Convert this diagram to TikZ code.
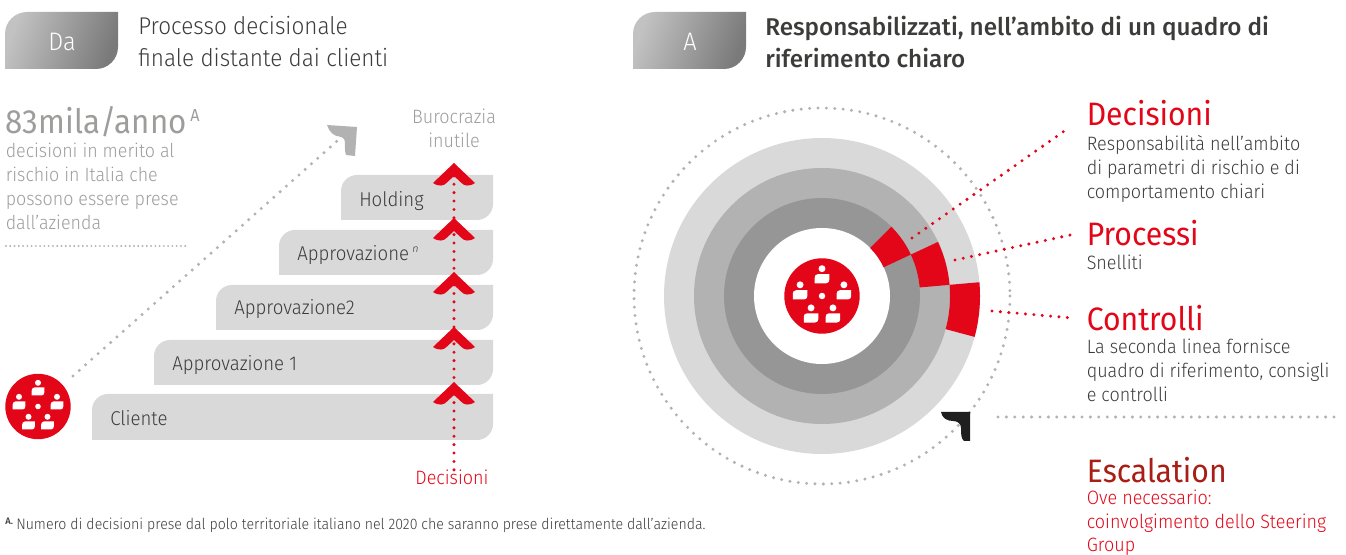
\documentclass[tikz,border=0pt]{standalone}
\usepackage{fontspec}
\setmainfont{Fira Sans}[UprightFont=* Light,BoldFont=* Medium,UprightFeatures={FakeStretch=0.93}]
\newfontfamily\regf{Fira Sans}[FakeStretch=0.93]
\definecolor{ured}{HTML}{E30618}
\definecolor{dred}{HTML}{A81E14}
\definecolor{stair}{HTML}{D9D9D9}
\definecolor{txt}{HTML}{3C3C3B}
\definecolor{gtxt}{HTML}{9D9D9C}
\definecolor{dots}{HTML}{B2B2B2}
\newcommand{\fsz}[2]{\fontsize{#1}{#2}\selectfont}
\newcommand{\stepshape}[6]{% name,left,top,bottom,text,dy
  \fill[stair] (#2,#4) -- (#2,#3+16) arc[start angle=180,end angle=270,radius=16] -- (493,#3) -- (493,#4-16) arc[start angle=0,end angle=90,radius=16] -- cycle;
  \node[bodytxt,anchor=west] (#1) at (#2+18,{(#3+#4)/2+#6}) {#5};}
\newcommand{\badge}[3]{% name,left,text
  \path[shade,left color=black!24,middle color=black!40,right color=black!52,shading angle=70]
   (#2,69) -- (#2,34) arc[start angle=180,end angle=270,radius=22] -- (#2+113,12) -- (#2+113,47) arc[start angle=0,end angle=90,radius=22] -- cycle;
  \node[white,font=\fsz{19}{22}] (#1) at (#2+57,42) {#3};}
\newcommand{\chev}[1]{%
  \fill[ured] (454,#1) -- (475,#1+20) .. controls (469,#1+24) and (464,#1+23) .. (461,#1+19.5) -- (454,#1+13) -- (447,#1+19.5) .. controls (444,#1+23) and (439,#1+24) .. (433,#1+20) -- cycle;}
\newcommand{\person}[2]{%
  \fill[white] (#1,#2-8.7) circle[radius=3];
  \fill[white] (#1-6.3,#2+4) -- (#1-6.3,#2-1) .. controls (#1-6.3,#2-2.5) and (#1-5.5,#2-4) .. (#1-3.5,#2-4) -- (#1+6.3,#2-4) -- (#1+6.3,#2+1) .. controls (#1+6.3,#2+2.5) and (#1+5.5,#2+4) .. (#1+3.5,#2+4) -- cycle;}
\newcommand{\sector}[4]{%
  \fill[ured,shift={(ctr)}] (#1:#3) arc[start angle=#1,end angle=#2,radius=#3] -- (#2:#4) arc[start angle=#2,end angle=#1,radius=#4] -- cycle;}
\tikzset{
  bodytxt/.style={text=txt,font=\fsz{15}{18},inner sep=0pt},
  bigred/.style={text=ured,font=\regf\fsz{24.3}{28},inner sep=0pt,anchor=base west},
  rightbody/.style={text=txt,font=\fsz{14.5}{18},inner sep=0pt,anchor=north west,align=left},
  dotline/.style={line width=2.5pt,line cap=round,dash pattern=on 0pt off 6.3pt},
  reddots/.style={dotline,draw=ured},
  greydots/.style={dotline,draw=dots},
  crowd/.pic={
    \fill[ured] (0,0) circle[radius=32.7];
    \fill[white] (0,0) circle[radius=2.8];
    \person{0}{-15}\person{-19}{-1}\person{19}{-1}\person{-9.5}{19}\person{9.5}{19}
  }
}
\begin{document}
\begin{tikzpicture}[x=0.75pt,y=-0.75pt]
\useasboundingbox (0,0) rectangle (1346,555);
% headers
\badge{da}{5}{Da}
\badge{a}{633}{A}
\node[anchor=north west,align=left,text=txt,font=\fsz{18.15}{24},inner sep=0pt] (h1) at (138,16) {Processo decisionale\\finale distante dai clienti};
\node[anchor=north west,align=left,text=txt,font=\fsz{18.2}{24}\bfseries,inner sep=0pt] (h2) at (765,16) {Responsabilizzati, nell’ambito di un quadro di\\riferimento chiaro};
% left texts
\node[anchor=base west,text=gtxt,font=\regf\fsz{25.2}{30},inner sep=0pt] (mila) at (5.5,133.5) {83mila/anno};
\node[anchor=base west,text=gtxt,font=\regf\fsz{13}{14},inner sep=0pt] (milaA) at (190,122) {A};
\node[anchor=north west,align=left,text=gtxt,font=\fsz{14.4}{18},inner sep=0pt] (milat) at (5.5,143) {decisioni in merito al\\rischio in Italia che\\possono essere prese\\dall’azienda};
\coordinate (ruleA) at (6,246); \coordinate (ruleB) at (189,246);
\draw[greydots,line width=1.6pt,dash pattern=on 0pt off 3.2pt] (ruleA) -- (ruleB);
% stairs
\stepshape{s1}{92}{394}{440}{Cliente}{1}
\stepshape{s2}{154}{340}{385}{Approvazione 1}{2.5}
\stepshape{s3}{216}{285}{330}{Approvazione2}{1.5}
\stepshape{s4}{279}{230}{275}{Approvazione\,\raisebox{0.8ex}{\fsz{8}{9}\itshape n}}{3}
\stepshape{s5}{341}{175}{220}{Holding}{3.5}
\node[text=gtxt,align=center,font=\fsz{14.5}{18},inner sep=0pt] (buro) at (454,128.5) {Burocrazia\\inutile};
\node[text=ured,font=\fsz{14.5}{18},inner sep=0pt] (dec) at (452,477.5) {Decisioni};
\coordinate (vt) at (454,172);
\draw[reddots] (dec.north -| vt) -- (vt);
\chev{163}\chev{218}\chev{272}\chev{327}\chev{382}
% left icon and arrow
\pic (leftcrowd) at (38,406.5) {crowd};
\coordinate (ga) at (73,376); \coordinate (gb) at (345,134);
\draw[greydots] (ga) -- (gb);
\fill[black!30] (327,125) -- (357,127) -- (355,156) -- (346,155) .. controls (344.5,151) and (345,146) .. (345,143) .. controls (345,139) and (343,137) .. (339,136.5) .. controls (334,136) and (329,132) .. cycle;
% target
\coordinate (ctr) at (822,296);
\draw[greydots] (ctr) circle[radius=188];
\fill[black!15] (ctr) circle[radius=158];
\fill[black!30] (ctr) circle[radius=128];
\fill[black!41] (ctr) circle[radius=98];
\fill[white] (ctr) circle[radius=68];
\sector{-45}{-25}{68}{98}
\sector{-25}{-5}{98}{128}
\sector{-5}{15}{128}{158}
\pic[scale=1.153] (bigcrowd) at (ctr) {crowd};
\fill[black!88] (941,412) -- (970,412) -- (970,441) -- (964,441) .. controls (961,439) and (961,433) .. (961,428) .. controls (961,424) and (958,421) .. (953,421) .. controls (947,421) and (942,418) .. cycle;
% right texts
\node[bigred] (t1) at (1086.5,126) {Decisioni};
\node[rightbody] (b1) at (1086.5,135) {Responsabilità nell’ambito\\di parametri di rischio e di\\comportamento chiari};
\node[bigred] (t2) at (1086.5,246) {Processi};
\node[rightbody] (b2) at (1086.5,255) {Snelliti};
\node[bigred] (t3) at (1086.5,331) {Controlli};
\node[rightbody] (b3) at (1086.5,339) {La seconda linea fornisce\\quadro di riferimento, consigli\\e controlli};
\node[bigred,text=dred] (t4) at (1086.5,483) {Escalation};
\node[rightbody,text=ured,font=\fsz{14.5}{17.6}] (b4) at (1086.5,490) {Ove necessario:\\coinvolgimento dello Steering\\Group};
\coordinate (d1) at (912,238); \coordinate (e1) at (1070,127);
\coordinate (d2) at (955,260); \coordinate (e2) at (1075,234);
\coordinate (d3) at (992,311); \coordinate (e3) at (1072,318);
\draw[reddots] (d1) -- (e1);
\draw[reddots] (d2) -- (e2);
\draw[reddots] (d3) -- (e3);
\coordinate (rA) at (998,417); \coordinate (rB) at (1340,417);
\draw[greydots] (rA) -- (rB);
% footnote
\node[anchor=base west,text=txt,font=\fsz{7}{8}\bfseries,inner sep=0pt] (fa) at (5,525) {A.};
\node[anchor=base west,text=txt,font=\fsz{11.4}{13},inner sep=0pt] (fn) at (16,529.5) {Numero di decisioni prese dal polo territoriale italiano nel 2020 che saranno prese direttamente dall’azienda.};
\end{tikzpicture}
\end{document}
